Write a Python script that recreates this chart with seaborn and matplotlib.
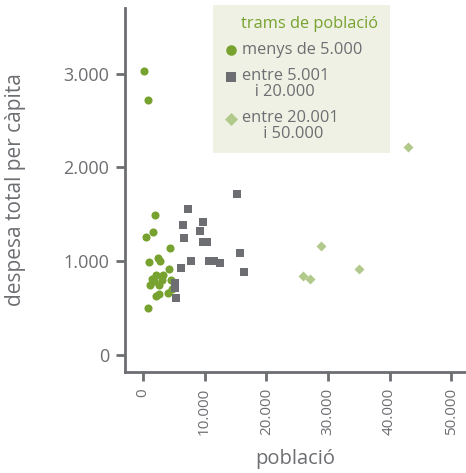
import pandas as pd
import seaborn as sns
import numpy as np
from matplotlib import pyplot as plt
from matplotlib.ticker import FuncFormatter

sns.set_theme(style="white")
plt.rcParams['font.family'] = ['Open Sans', 'DejaVu Sans']

GREY = "#6d6e71"

# menys de 5.000
small_x = [210, 760, 1900, 1575, 440, 4380, 970, 2490, 2820, 4270, 2110, 3250,
           1410, 1840, 3030, 4550, 1090, 2600, 4660, 2160, 2600, 4110, 860]
small_y = [3030, 2715, 1495, 1305, 1260, 1135, 990, 1030, 995, 915, 845, 855,
           805, 790, 795, 795, 745, 745, 700, 630, 645, 655, 500]
# entre 5.001 i 20.000
mid_x = [15310, 7360, 6540, 9790, 9300, 6700, 9790, 10440, 15800, 7840, 10760,
         11580, 12550, 16450, 6220, 5240, 5240, 5400]
mid_y = [1720, 1560, 1380, 1420, 1325, 1240, 1205, 1205, 1080, 1005, 1005,
         995, 975, 880, 920, 765, 715, 600]
# entre 20.001 i 50.000
big_x = [43020, 28850, 25970, 27110, 35060]
big_y = [2220, 1155, 835, 805, 910]

groups = ["menys de 5.000", "entre 5.001\n   i 20.000", "entre 20.001\n     i 50.000"]
df = pd.concat([
    pd.DataFrame({"poblacio": small_x, "despesa": small_y, "tram": groups[0]}),
    pd.DataFrame({"poblacio": mid_x, "despesa": mid_y, "tram": groups[1]}),
    pd.DataFrame({"poblacio": big_x, "despesa": big_y, "tram": groups[2]}),
])

colors = ["#77a22f", GREY, "#b2c98c"]
markers = ["o", "s", "D"]
sizes = [34, 36, 26]

fig = plt.figure(figsize=(4.66, 4.73), dpi=100)
ax = fig.add_axes([125 / 466, 1 - 372 / 473, 341 / 466, 364 / 473])

for g, c, m, s in zip(groups, colors, markers, sizes):
    sns.scatterplot(data=df[df["tram"] == g], x="poblacio", y="despesa",
                    color=c, marker=m, s=s, linewidth=0, label=g, ax=ax)

ax.set_xlim(-2920, 52400)
ax.set_ylim(-185, 3700)
ax.set_xticks(np.arange(0, 50001, 10000))
ax.set_yticks(np.arange(0, 3001, 1000))
fmt = FuncFormatter(lambda v, p: f"{int(v):,}".replace(",", "."))
ax.xaxis.set_major_formatter(fmt)
ax.yaxis.set_major_formatter(fmt)

for side in ["top", "right"]:
    ax.spines[side].set_visible(False)
for side in ["left", "bottom"]:
    ax.spines[side].set_color(GREY)
    ax.spines[side].set_linewidth(2)

ax.tick_params(axis="both", direction="out", length=6.5, width=2, color=GREY,
               labelcolor=GREY, pad=5)
ax.tick_params(axis="both", which="both", bottom=True, left=True)
ax.tick_params(axis="y", labelsize=13)
ax.tick_params(axis="x", labelsize=11)
plt.setp(ax.get_xticklabels(), rotation=90)

ax.set_xlabel("població", fontsize=14.5, color=GREY, labelpad=10)
ax.set_ylabel("despesa total per càpita", fontsize=15, color=GREY, labelpad=27)

leg = ax.legend(loc="upper left", bbox_to_anchor=(213 / 466, 1 - 5 / 473),
                bbox_transform=fig.transFigure, title="    trams de població",
                frameon=True, fancybox=False, fontsize=11.8, title_fontsize=11.8,
                alignment="left", handletextpad=0.3, labelspacing=0.6,
                borderpad=0.7, handlelength=0.8, borderaxespad=0, markerscale=1.3)
leg.get_frame().set_facecolor("#eef1e3")
leg.get_frame().set_edgecolor("none")
leg.get_frame().set_alpha(1)
leg.get_title().set_color("#77a22f")
for t in leg.get_texts():
    t.set_color(GREY)
    t.set_linespacing(1.0)
# put the marker of a two-line entry next to its first line
for h in leg.legend_handles[1:]:
    h.set_offsets(h.get_offsets() + np.array([0, 6.5]))

plt.savefig("out.png", dpi=100)
